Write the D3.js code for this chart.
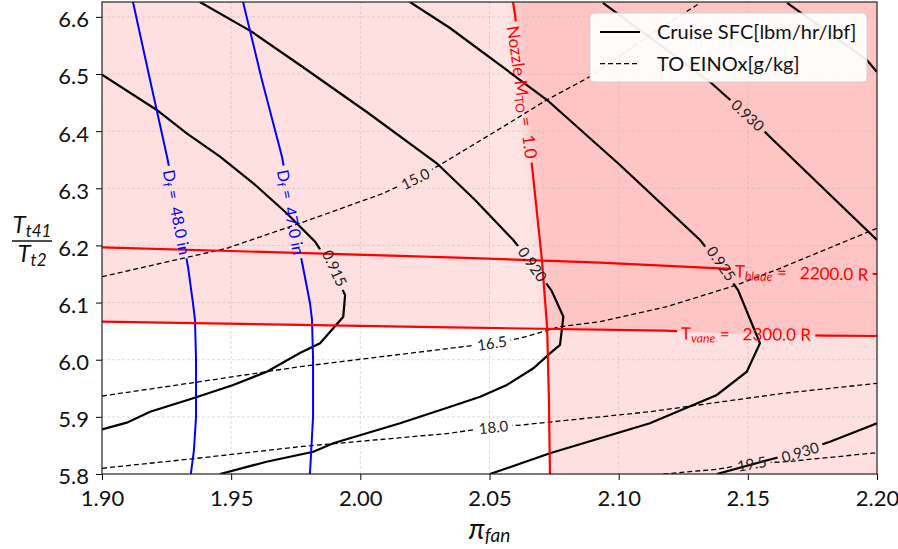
<!DOCTYPE html>
<html>
<head>
<meta charset="utf-8">
<script src="https://cdn.jsdelivr.net/npm/d3@7"></script>
<style>
  body { margin: 0; background: #fff; }
  text { font-family: Lato, "DejaVu Sans", sans-serif; white-space: pre; }
</style>
</head>
<body>
<svg id="chart"></svg>
<script>
// axis ticks
var xTicks = [1.90, 1.95, 2.00, 2.05, 2.10, 2.15, 2.20];
var yTicks = [5.8, 5.9, 6.0, 6.1, 6.2, 6.3, 6.4, 6.5, 6.6];

// Cruise SFC contours, points are [pi_fan, Tt41/Tt2]
var sfc915 = [[1.9, 6.4988], [1.9212, 6.4370], [1.9328, 6.3962], [1.9457, 6.3553], [1.9586, 6.3087], [1.9715, 6.2563],
  [1.9825, 6.2065], [1.9890, 6.1605], [1.9941, 6.1133], [1.9934, 6.0753], [1.9844, 6.0287], [1.9766, 6.0118],
  [1.9638, 5.9790], [1.9508, 5.9558], [1.9353, 5.9325], [1.9186, 5.9090], [1.9096, 5.8898], [1.9, 5.8782]];
var sfc920 = [[1.9379, 6.626], [1.9579, 6.5741], [1.9766, 6.5158], [2.0025, 6.4335], [2.0296, 6.3438],
  [2.0444, 6.2795], [2.0592, 6.2095],
  [2.0668, 6.1658], [2.0741, 6.1203], [2.0786, 6.0753], [2.0773, 6.0258], [2.0734, 6.0112], [2.0670, 5.9850],
  [2.0567, 5.9558], [2.0464, 5.9353], [2.0348, 5.9178], [2.0154, 5.8887], [1.9895, 5.8537], [1.9818, 5.8390],
  [1.9637, 5.8215], [1.9457, 5.8]];
var sfc925 = [[2.0192, 6.626], [2.0347, 6.5805], [2.0723, 6.4545], [2.1005, 6.3408], [2.1315, 6.2095], [2.1392, 6.1658],
  [2.1462, 6.1220], [2.1547, 6.0287], [2.1496, 5.9790], [2.1380, 5.9383], [2.1121, 5.8887], [2.0734, 5.8362], [2.0502, 5.8]];
var sfc930a = [[2.0939, 6.6243], [2.1160, 6.5508], [2.1354, 6.4860], [2.1419, 6.4598], [2.1501, 6.4283], [2.1586, 6.3898], [2.2, 6.2095]];
var sfc930b = [[2.1380, 5.8], [2.1579, 5.8245], [2.1702, 5.8390], [2.1818, 5.8565], [2.2, 5.8887]];
var sfc935 = [[2.1652, 6.6243], [2.1961, 6.5245], [2.2, 6.5035]];

// TO EINOx contours
var nox150 = [[1.9, 6.1453], [1.9483, 6.1950], [1.9766, 6.2387], [2.0089, 6.2912], [2.0212, 6.3175], [2.0308, 6.3408],
  [2.0553, 6.4078], [2.0721, 6.4545], [2.0889, 6.4953], [2.1121, 6.5683], [2.1315, 6.6243]];
var nox165 = [[1.9, 5.9365], [1.9379, 5.9615], [1.9766, 5.9878], [2.0347, 6.0200], [2.0509, 6.0287], [2.0618, 6.0375],
  [2.0773, 6.0578], [2.0928, 6.0665], [2.1186, 6.0928], [2.1457, 6.1308], [2.1625, 6.1600], [2.2, 6.2300]];
var nox180 = [[1.9, 5.81], [1.9379, 5.828], [1.9766, 5.8478], [2.0347, 5.8712], [2.0515, 5.8828], [2.0625, 5.8858],
  [2.1121, 5.9090], [2.1637, 5.9412], [2.2, 5.9587]];
var nox195 = [[2.1173, 5.8], [2.1380, 5.8082], [2.1515, 5.8187], [2.1650, 5.8215], [2.2, 5.8373]];

// fan diameter contours
var df48 = [[1.9120, 6.626], [1.9186, 6.4895], [1.9252, 6.3548], [1.9294, 6.2585], [1.9333, 6.1623], [1.9352, 6.0993],
  [1.9360, 6.0695], [1.9364, 6.0], [1.9364, 5.9], [1.9356, 5.8420], [1.9344, 5.8]];
var df47 = [[1.9546, 6.626], [1.9619, 6.4895], [1.9697, 6.3548], [1.9735, 6.2585], [1.9778, 6.1623], [1.9805, 6.0993],
  [1.9813, 6.0695], [1.9817, 6.0], [1.9817, 5.9], [1.9805, 5.8]];

// constraint lines
var tBlade = [[1.9, 6.1967], [2.0347, 6.1792], [2.0928, 6.1698], [2.1392, 6.1600], [2.1710, 6.1535], [2.2, 6.15]];
var tVane = [[1.9, 6.0665], [2.0347, 6.0567], [2.1173, 6.0508], [2.1493, 6.0450], [2.1799, 6.0420], [2.2, 6.0415]];
var nozzleM = [[2.0591, 6.626], [2.0599, 6.6033], [2.0630, 6.4685], [2.0665, 6.3373], [2.0703, 6.1745],
  [2.0723, 6.0573], [2.0730, 5.9295], [2.0734, 5.8]];

var W = 898, H = 549;
var margin = {top: 2, right: 21, bottom: 75, left: 102};

var x = d3.scaleLinear().domain([1.9, 2.2]).range([margin.left, W - margin.right]);
var y = d3.scaleLinear().domain([5.8, 6.626]).range([H - margin.bottom, margin.top]);
var line = d3.line().x(d => x(d[0])).y(d => y(d[1]));

// every drawn contour with its inline labels
var contours = [
  {pts: sfc915, kind: "sfc", labels: [{at: [1.9902, 6.1605], rot: 65, parts: [["0.915"]]}]},
  {pts: sfc920, kind: "sfc", labels: [{at: [2.0668, 6.1675], rot: 55, parts: [["0.920"]]}]},
  {pts: sfc925, kind: "sfc", labels: [{at: [2.1399, 6.1687], rot: 55, parts: [["0.925"]]}]},
  {pts: sfc930a, kind: "sfc", labels: [{at: [2.1501, 6.4283], rot: 43, parts: [["0.930"]]}]},
  {pts: sfc930b, kind: "sfc", labels: [{at: [2.1702, 5.8390], rot: -17, parts: [["0.930"]]}]},
  {pts: sfc935, kind: "sfc", labels: []},
  {pts: nox150, kind: "nox", labels: [{at: [2.0212, 6.3175], rot: -26, parts: [["15.0"]]}]},
  {pts: nox165, kind: "nox", labels: [{at: [2.0509, 6.0298], rot: -8, parts: [["16.5"]]}]},
  {pts: nox180, kind: "nox", labels: [{at: [2.0515, 5.8828], rot: -6, parts: [["18.0"]]}]},
  {pts: nox195, kind: "nox", labels: [{at: [2.1515, 5.8187], rot: -10, parts: [["19.5"]]}]},
  {pts: df48, kind: "df", labels: [{at: [1.9294, 6.2585], rot: 79, parts: [["D"], ["f", "sub"], [" =  48.0 in"]]}]},
  {pts: df47, kind: "df", labels: [{at: [1.9735, 6.2585], rot: 79, parts: [["D"], ["f", "sub"], [" =  47.0 in"]]}]},
  {pts: tBlade, kind: "lim", labels: [{at: [2.1708, 6.1535], rot: 1.5, parts: [["T"], ["blade", "subi"], [" =   2200.0 R"]]}]},
  {pts: tVane, kind: "lim", labels: [{at: [2.1493, 6.0464], rot: 0.6, parts: [["T"], ["vane", "subi"], [" =   2300.0 R"]]}]},
  {pts: nozzleM, kind: "lim", labels: [{at: [2.0630, 6.4685], rot: 82, parts: [["Nozzle M"], ["TO", "sub"], [" =  1.0"]]}]}
];

var styles = {
  sfc: {stroke: "#000", width: 2.2, dash: null, text: "#222", font: 15},
  nox: {stroke: "#000", width: 1.3, dash: "5,3", text: "#222", font: 15},
  df: {stroke: "#0000ff", width: 2, dash: null, text: "#0000ff", font: 16},
  lim: {stroke: "#ff0000", width: 2.2, dash: null, text: "#ff0000", font: 17}
};

var svg = d3.select("#chart").attr("width", W).attr("height", H);
var defs = svg.append("defs");
defs.append("clipPath").attr("id", "plotclip").append("rect")
  .attr("x", x(1.9)).attr("y", y(6.626)).attr("width", x(2.2) - x(1.9)).attr("height", y(5.8) - y(6.626));
defs.append("filter").attr("id", "soft").attr("x", "-10%").attr("y", "-10%").attr("width", "120%").attr("height", "120%")
  .append("feGaussianBlur").attr("stdDeviation", 4);

var vaneArea = [[1.85, tVane[0][1]]].concat(tVane, [[2.25, tVane[tVane.length - 1][1]], [2.25, 6.7], [1.85, 6.7]]);
var belowVane = [[1.85, tVane[0][1]]].concat(tVane, [[2.25, tVane[tVane.length - 1][1]], [2.25, 5.7], [1.85, 5.7]]);
var nozzleArea = [[nozzleM[0][0], 6.7]].concat(nozzleM, [[nozzleM[nozzleM.length - 1][0], 5.75], [2.25, 5.75], [2.25, 6.7]]);
var bandArea = [[2.05, 6.7]].concat(nozzleM, [[2.05, 5.75]]);

defs.append("clipPath").attr("id", "vaneclip").append("path").attr("d", line(vaneArea) + "Z");
defs.append("clipPath").attr("id", "belowvane").append("path").attr("d", line(belowVane) + "Z");

var plot = svg.append("g").attr("clip-path", "url(#plotclip)");

// constraint shading
var fills = plot.append("g");
fills.append("path").attr("d", line(vaneArea) + "Z").attr("fill", "#ff0000").attr("fill-opacity", 0.12);
fills.append("path").attr("d", line(bandArea) + "Z").attr("clip-path", "url(#vaneclip)")
  .attr("fill", "#fff").attr("fill-opacity", 0.15);
fills.append("g").attr("clip-path", "url(#vaneclip)")
  .append("path").attr("d", line(nozzleArea) + "Z").attr("filter", "url(#soft)")
  .attr("fill", "#ff0000").attr("fill-opacity", 0.12);
fills.append("path").attr("d", line(nozzleArea) + "Z").attr("clip-path", "url(#belowvane)")
  .attr("fill", "#ff0000").attr("fill-opacity", 0.12);

// grid
var grid = plot.append("g").attr("stroke", "#b8b8b8").attr("stroke-width", 0.7).attr("stroke-dasharray", "3,2").attr("opacity", 0.7);
grid.selectAll("line.gx").data(xTicks.slice(1, -1)).join("line")
  .attr("x1", d => x(d)).attr("x2", d => x(d)).attr("y1", y(5.8)).attr("y2", y(6.626));
grid.selectAll("line.gy").data(yTicks.slice(1)).join("line")
  .attr("x1", x(1.9)).attr("x2", x(2.2)).attr("y1", d => y(d)).attr("y2", d => y(d));

var lineLayer = plot.append("g").attr("fill", "none");
var labelLayer = svg.append("g");

contours.forEach(function (c, i) {
  var st = styles[c.kind];
  var m = defs.append("mask").attr("id", "gap" + i).attr("maskUnits", "userSpaceOnUse")
    .attr("x", 0).attr("y", 0).attr("width", W).attr("height", H);
  m.append("rect").attr("width", W).attr("height", H).attr("fill", "white");

  c.labels.forEach(function (l) {
    var tf = "translate(" + x(l.at[0]) + "," + y(l.at[1]) + ") rotate(" + l.rot + ")";
    var t = labelLayer.append("text").attr("transform", tf)
      .attr("text-anchor", "middle").attr("dominant-baseline", "central")
      .attr("font-size", st.font).attr("fill", st.text);
    var shift = 0;
    l.parts.forEach(function (p) {
      var ts = t.append("tspan").text(p[0]);
      if (p[1]) {
        ts.attr("font-size", st.font * 0.72).attr("dy", st.font * 0.28);
        if (p[1] == "subi") ts.attr("font-style", "italic");
        shift = st.font * 0.28;
      } else if (shift) {
        ts.attr("dy", -shift);
        shift = 0;
      }
    });
    var b = t.node().getBBox();
    m.append("rect").attr("transform", tf)
      .attr("x", b.x - 4).attr("y", -st.font * 0.5).attr("width", b.width + 8).attr("height", st.font)
      .attr("fill", "black");
  });

  lineLayer.append("path").datum(c.pts).attr("d", line)
    .attr("stroke", st.stroke).attr("stroke-width", st.width)
    .attr("stroke-dasharray", st.dash).attr("mask", "url(#gap" + i + ")");
});

// axes
var xAxis = d3.axisBottom(x).tickValues(xTicks).tickFormat(d3.format(".2f")).tickSize(6).tickPadding(10).tickSizeOuter(0);
var yAxis = d3.axisLeft(y).tickValues(yTicks).tickFormat(d3.format(".1f")).tickSize(6).tickPadding(7).tickSizeOuter(0);

svg.append("g").attr("transform", "translate(0," + y(5.8) + ")").call(xAxis)
  .call(g => g.select(".domain").remove())
  .call(g => g.selectAll("text").attr("font-size", 22).attr("fill", "#111").style("font-family", "Lato, sans-serif"));
svg.append("g").attr("transform", "translate(" + x(1.9) + ",0)").call(yAxis)
  .call(g => g.select(".domain").remove())
  .call(g => g.selectAll("text").attr("font-size", 22).attr("fill", "#111").attr("dy", "0.45em").style("font-family", "Lato, sans-serif"));

svg.append("rect").attr("x", x(1.9)).attr("y", y(6.626)).attr("width", x(2.2) - x(1.9)).attr("height", y(5.8) - y(6.626))
  .attr("fill", "none").attr("stroke", "#222").attr("stroke-width", 1.2);

// axis titles
var xl = svg.append("text").attr("x", x(2.05)).attr("y", 539).attr("text-anchor", "middle").attr("fill", "#111");
xl.append("tspan").text("π").attr("font-size", 28).attr("font-style", "italic");
xl.append("tspan").text("fan").attr("font-size", 19).attr("font-style", "italic").attr("dy", 3);

var yl = svg.append("g").attr("transform", "translate(32,0)").attr("fill", "#111");
var num = yl.append("text").attr("y", 233).attr("text-anchor", "middle");
num.append("tspan").text("T").attr("font-size", 24).attr("font-style", "italic");
num.append("tspan").text("t41").attr("font-size", 17).attr("font-style", "italic").attr("dy", 4);
yl.append("line").attr("x1", -20).attr("x2", 20).attr("y1", 241).attr("y2", 241).attr("stroke", "#111").attr("stroke-width", 1.3);
var den = yl.append("text").attr("y", 262).attr("text-anchor", "middle");
den.append("tspan").text("T").attr("font-size", 24).attr("font-style", "italic");
den.append("tspan").text("t2").attr("font-size", 17).attr("font-style", "italic").attr("dy", 4);

// legend
var legendItems = ["Cruise SFC[lbm/hr/lbf]", "TO EINOx[g/kg]"];
var lg = svg.append("g").attr("transform", "translate(" + (x(2.2) - 287) + ",13)");
lg.append("rect").attr("width", 277).attr("height", 69).attr("rx", 4)
  .attr("fill", "#fff").attr("fill-opacity", 0.92).attr("stroke", "#cfcfcf");
lg.selectAll("g.item").data(legendItems).join("g")
  .attr("transform", (d, i) => "translate(10," + (19 + i * 31.6) + ")")
  .each(function (d, i) {
    var st = styles[i == 0 ? "sfc" : "nox"];
    var g = d3.select(this);
    g.append("line").attr("x1", 0).attr("x2", 40).attr("stroke", st.stroke)
      .attr("stroke-width", st.width).attr("stroke-dasharray", st.dash);
    g.append("text").attr("x", 57).attr("y", 7).attr("font-size", 20).attr("fill", "#111").text(d);
  });
</script>
</body>
</html>
